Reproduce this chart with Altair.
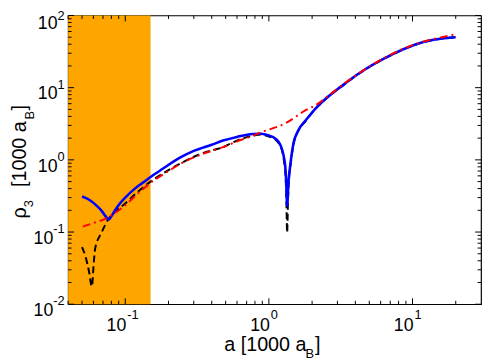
import altair as alt
import pandas as pd

# ---------------- data ----------------
blue_x = [0.050, 0.056, 0.062, 0.068, 0.073, 0.0765, 0.080, 0.085, 0.092, 0.100,
          0.115, 0.130, 0.150, 0.180, 0.242, 0.30, 0.40, 0.48, 0.60, 0.77, 0.88,
          1.00, 1.11, 1.20, 1.24, 1.28, 1.30, 1.32, 1.34, 1.37, 1.41, 1.48, 1.60,
          1.80, 2.20, 2.44, 3.35, 4.13, 7.0, 11.9, 16.0, 20.0]
blue_y = [0.31, 0.28, 0.24, 0.20, 0.165, 0.148, 0.165, 0.20, 0.25, 0.30,
          0.39, 0.47, 0.58, 0.74, 1.08, 1.33, 1.62, 1.85, 2.08, 2.28, 2.30,
          2.18, 1.97, 1.62, 1.36, 1.02, 0.81, 0.50, 0.23, 0.50, 0.85, 1.66, 2.55,
          3.5, 5.6, 6.8, 11.2, 15.2, 28.0, 42.8, 48.0, 50.0]

black_x = [0.050, 0.053, 0.056, 0.0585, 0.0605, 0.0617, 0.0685, 0.0762, 0.085,
           0.099, 0.122, 0.150, 0.200, 0.242, 0.35, 0.48, 0.60, 0.77, 0.88,
           1.00, 1.11, 1.20, 1.24, 1.28, 1.30, 1.32, 1.34, 1.36, 1.39, 1.41,
           1.48, 1.60, 1.80, 2.20, 2.44, 3.35, 4.13, 7.0, 11.9, 16.0, 20.0]
black_y = [0.062, 0.045, 0.028, 0.0176, 0.040, 0.059, 0.099, 0.15, 0.19,
           0.245, 0.36, 0.50, 0.72, 0.89, 1.25, 1.50, 1.85, 2.16, 2.25,
           2.10, 1.92, 1.55, 1.30, 0.90, 0.70, 0.35, 0.098, 0.30, 0.65, 0.80,
           1.62, 2.50, 3.45, 5.55, 6.75, 11.1, 15.1, 27.8, 42.6, 47.8, 49.8]

red_x = [0.0506, 0.060, 0.0762, 0.085, 0.100, 0.122, 0.150, 0.200, 0.242, 0.35,
         0.48, 0.60, 0.77, 0.90, 1.00, 1.30, 1.78, 2.20, 2.44, 3.35, 4.13, 7.0,
         11.9, 16.0, 20.0]
red_y = [0.119, 0.133, 0.160, 0.185, 0.235, 0.34, 0.48, 0.70, 0.88, 1.22,
         1.50, 1.80, 2.15, 2.45, 2.62, 3.20, 4.80, 6.0, 7.0, 11.4, 15.3, 28.5,
         43.5, 50.0, 55.0]

shade_from = [0.04]
shade_to = [0.15]

x_major = [0.1, 1, 10]
x_exp = ["-1", "0", "1"]
x_minor = [0.04, 0.05, 0.06, 0.07, 0.08, 0.09, 0.2, 0.3, 0.4, 0.5, 0.6, 0.7,
           0.8, 0.9, 2, 3, 4, 5, 6, 7, 8, 9, 20]
y_major = [0.01, 0.1, 1, 10, 100]
y_exp = ["-2", "-1", "0", "1", "2"]
y_minor = [m * d for d in (0.01, 0.1, 1, 10) for m in range(2, 10)]

# ---------------- layout ----------------
W, H = 419, 293
xs = alt.Scale(type="log", domain=[0.04, 30])
ys = alt.Scale(type="log", domain=[0.01, 100])
FONT = "Liberation Sans"

one = pd.DataFrame({"k": [0]})


def X(field="x"):
    return alt.X(f"{field}:Q", scale=xs, axis=None)


def Y(field="y"):
    return alt.Y(f"{field}:Q", scale=ys, axis=None)


layers = []

# orange band
layers.append(
    alt.Chart(pd.DataFrame({"x": shade_from, "x2": shade_to}))
    .mark_rect(color="#FFA500")
    .encode(x=X("x"), x2="x2:Q", y=alt.value(0), y2=alt.value(H))
)


def line(xv, yv, **kw):
    return (
        alt.Chart(pd.DataFrame({"x": xv, "y": yv}))
        .mark_line(interpolate="monotone", **kw)
        .encode(x=X(), y=Y(), order="x:Q")
    )


layers.append(line(black_x, black_y, color="black", strokeWidth=2, strokeDash=[7, 4]))
layers.append(line(blue_x, blue_y, color="#0000ff", strokeWidth=2.6))
layers.append(line(red_x, red_y, color="#ff0000", strokeWidth=2, strokeDash=[8, 4, 2, 4]))

# ticks (inside, on all four sides)
for vals, ln in ((x_major, 6), (x_minor, 3.5)):
    d = pd.DataFrame({"x": vals})
    layers.append(alt.Chart(d).mark_rule(color="black", strokeWidth=1)
                  .encode(x=X(), y=alt.value(H), y2=alt.value(H - ln)))
    layers.append(alt.Chart(d).mark_rule(color="black", strokeWidth=1)
                  .encode(x=X(), y=alt.value(0), y2=alt.value(ln)))
for vals, ln in ((y_major, 6), (y_minor, 3.5)):
    d = pd.DataFrame({"y": vals})
    layers.append(alt.Chart(d).mark_rule(color="black", strokeWidth=1)
                  .encode(y=Y(), x=alt.value(0), x2=alt.value(ln)))
    layers.append(alt.Chart(d).mark_rule(color="black", strokeWidth=1)
                  .encode(y=Y(), x=alt.value(W), x2=alt.value(W - ln)))

# x tick labels: "10" + superscript exponent
xl = pd.DataFrame({"x": x_major, "e": x_exp})
layers.append(alt.Chart(xl).mark_text(font=FONT, fontSize=18, align="right",
                                      baseline="alphabetic", dx=1)
              .encode(x=X(), y=alt.value(H + 27), text=alt.value("10")))
layers.append(alt.Chart(xl).mark_text(font=FONT, fontSize=13, align="left",
                                      baseline="alphabetic", dx=2)
              .encode(x=X(), y=alt.value(H + 15), text="e:N"))

# y tick labels, right aligned as a whole
for v, e in zip(y_major, y_exp):
    sup_w = 7.2 * len(e.replace("-", "")) + (4.3 if e.startswith("-") else 0)
    top_shift = 3.5 if v == max(y_major) else 0  # keep the top one inside the page
    d = pd.DataFrame({"y": [v], "e": [e]})
    layers.append(alt.Chart(d).mark_text(font=FONT, fontSize=13, align="right",
                                         baseline="alphabetic", dy=1 + top_shift)
                  .encode(y=Y(), x=alt.value(-3.5), text="e:N"))
    layers.append(alt.Chart(d).mark_text(font=FONT, fontSize=18, align="right",
                                         baseline="alphabetic", dy=12 + top_shift / 2)
                  .encode(y=Y(), x=alt.value(-3.5 - sup_w), text=alt.value("10")))


def txt(t, x, y, size, angle=0):
    kw = dict(font=FONT, fontSize=size, align="left", baseline="alphabetic")
    if angle:
        kw["angle"] = angle
    return (alt.Chart(one).mark_text(**kw)
            .encode(x=alt.value(x), y=alt.value(y), text=alt.value(t)))


# x title: a [1000 a_B]
layers.append(txt("a [1000 a", 158.5, H + 47, 20))
layers.append(txt("B", 241, H + 55, 13))
layers.append(txt("]", 250.5, H + 47, 20))

# y title: rho_3 [1000 a_B] (rotated)
layers.append(txt("ρ", -43, 206, 20, 270))
layers.append(txt("3", -36, 194.5, 13, 270))
layers.append(txt("[1000 a", -43, 174, 20, 270))
layers.append(txt("B", -35, 105.5, 13, 270))
layers.append(txt("]", -43, 96.5, 20, 270))

chart = (
    alt.layer(*layers)
    .properties(width=W, height=H, autosize=alt.AutoSizeParams(type="none"),
                padding={"left": 61, "top": 5, "right": 2, "bottom": 54})
    .configure_view(stroke="black", strokeWidth=1.2)
)

chart.save("out.html", embed_options={"renderer": "svg", "actions": False})
